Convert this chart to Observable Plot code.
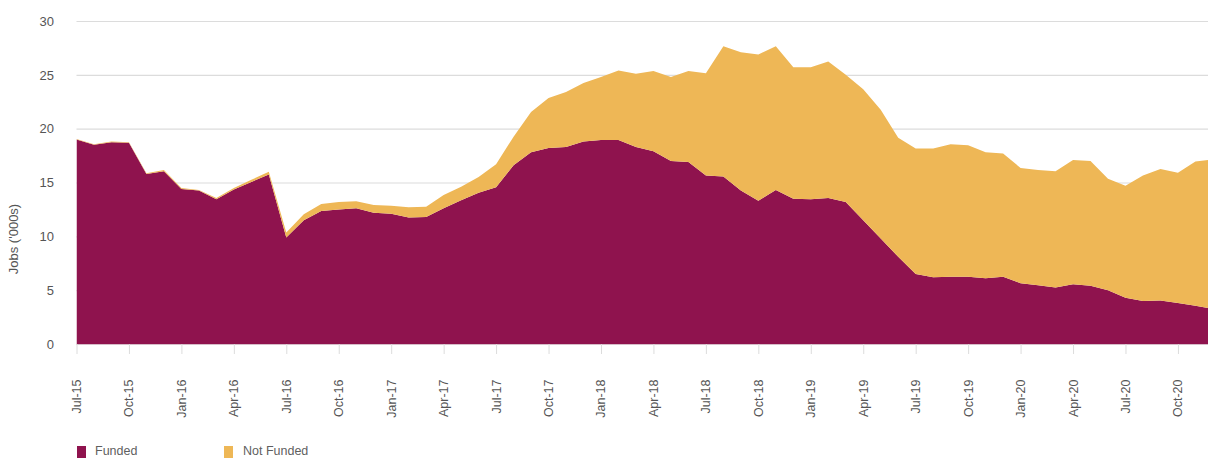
<!DOCTYPE html>
<html><head><meta charset="utf-8">
<script src="https://cdn.jsdelivr.net/npm/d3@7"></script>
<script src="https://cdn.jsdelivr.net/npm/@observablehq/plot@0.6"></script>
<style>
body{margin:0;background:#fff;font-family:"Liberation Sans",Arial,sans-serif;}
#wrap{position:relative;width:1208px;height:459px;overflow:hidden}
#chart{position:absolute;left:0;top:0}
.ylab{position:absolute;left:12.5px;top:239px;transform:translate(-50%,-50%) rotate(-90deg);white-space:nowrap;font-size:13px;color:#555}
.leg{position:absolute;top:445px;height:13px;line-height:13px;font-size:12.5px;color:#5f5f5f;white-space:nowrap}
.sw{position:absolute;top:446px;width:9px;height:12px}
</style></head><body><div id="wrap"><div id="chart"></div></div>
<script>
// Monthly categories: Jul-15 .. Dec-20
const months = d3.utcMonths(new Date(Date.UTC(2015, 6, 1)), new Date(Date.UTC(2021, 0, 1)));
const seriesNames = ["Funded", "Not Funded"];
const seriesColors = ["#8F134E", "#EEB756"];
const funded = [
  19.0, 18.5, 18.75, 18.7, 15.8, 16.05, 14.4, 14.25, 13.45, 14.35, 15.05, 15.75,
  9.9, 11.5, 12.35, 12.5, 12.6, 12.2, 12.1, 11.75, 11.8, 12.6, 13.35, 14.05,
  14.55, 16.6, 17.8, 18.2, 18.3, 18.8, 18.95, 18.95, 18.3, 17.9, 17.0, 16.9,
  15.65, 15.55, 14.25, 13.3, 14.3, 13.5, 13.45, 13.55, 13.2, 11.5, 9.8, 8.1,
  6.5, 6.2, 6.25, 6.25, 6.1, 6.25, 5.65, 5.45, 5.25, 5.55, 5.4, 5.0,
  4.3, 4.0, 4.05, 3.8, 3.55, 3.25
];
const notFunded = [
  0.05, 0.05, 0.05, 0.05, 0.05, 0.1, 0.1, 0.05, 0.1, 0.15, 0.2, 0.25,
  0.45, 0.55, 0.65, 0.7, 0.65, 0.7, 0.75, 0.95, 0.95, 1.25, 1.25, 1.45,
  2.15, 2.65, 3.75, 4.65, 5.1, 5.45, 5.85, 6.45, 6.8, 7.45, 7.8, 8.45,
  9.5, 12.1, 12.85, 13.6, 13.35, 12.2, 12.25, 12.7, 11.8, 12.15, 11.95, 11.05,
  11.65, 11.95, 12.3, 12.2, 11.7, 11.45, 10.7, 10.7, 10.8, 11.55, 11.6, 10.35,
  10.4, 11.65, 12.2, 12.1, 13.4, 13.9
];
const tickLabels = ["Jul-15","Oct-15","Jan-16","Apr-16","Jul-16","Oct-16","Jan-17","Apr-17","Jul-17","Oct-17","Jan-18",
  "Apr-18","Jul-18","Oct-18","Jan-19","Apr-19","Jul-19","Oct-19","Jan-20","Apr-20","Jul-20","Oct-20"];
const yTicks = [0, 5, 10, 15, 20, 25, 30];
const yLabel = "Jobs ('000s)";

const rows = [];
months.forEach((m, i) => {
  rows.push({i, series: seriesNames[0], value: funded[i]});
  rows.push({i, series: seriesNames[1], value: notFunded[i]});
});
const tickIdx = tickLabels.map((_, k) => k * 3);

const chart = Plot.plot({
  width: 1208, height: 440,
  marginLeft: 76.5, marginRight: 0, marginTop: 21, marginBottom: 96,
  style: {fontFamily: "Liberation Sans, Arial, sans-serif", fontSize: "13px", color: "#555", background: "#fff"},
  x: {domain: [0, 64.72], axis: null},
  y: {domain: [0, 30], axis: null},
  color: {domain: seriesNames, range: seriesColors},
  marks: [
    Plot.gridY(yTicks, {stroke: "#dcdcdc", strokeOpacity: 1, strokeWidth: 1.2}),
    Plot.areaY(rows, {x: "i", y: "value", fill: "series", order: seriesNames, clip: true}),
    Plot.ruleY([0], {stroke: "#d6bcc8", strokeWidth: 1.2}),
    Plot.axisY(yTicks, {tickSize: 0, tickPadding: 23, label: null, fontSize: 13}),
    Plot.axisX(tickIdx, {tickFormat: d => tickLabels[d / 3], tickRotate: -90, tickSize: 10, tickPadding: 25,
      stroke: "#dcdcdc", label: null, fontSize: 12.5})
  ]
});
document.getElementById("chart").appendChild(chart);

const wrap = document.getElementById("wrap");
const yl = document.createElement("div"); yl.className = "ylab"; yl.textContent = yLabel; wrap.appendChild(yl);
const legPos = [[77, 95], [224, 243]];
seriesNames.forEach((s, k) => {
  const sw = document.createElement("div"); sw.className = "sw"; sw.style.left = legPos[k][0] + "px"; sw.style.background = seriesColors[k];
  const t = document.createElement("div"); t.className = "leg"; t.style.left = legPos[k][1] + "px"; t.textContent = s;
  wrap.appendChild(sw); wrap.appendChild(t);
});
</script></body></html>
